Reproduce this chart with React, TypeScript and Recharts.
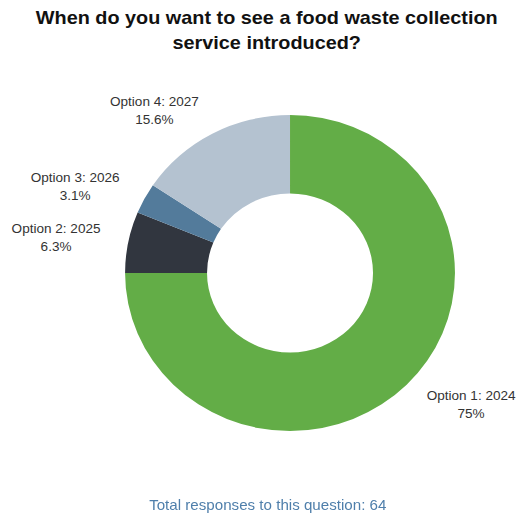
import React from "react";
import { PieChart, Pie, Cell } from "recharts";

const categories = ["Option 1: 2024", "Option 2: 2025", "Option 3: 2026", "Option 4: 2027"];
const responses = [48, 4, 2, 10];
const colors = ["#63ad47", "#31363f", "#537b9b", "#b4c2d0"];
const titleLines = ["When do you want to see a food waste collection", "service introduced?"];
const footerText = "Total responses to this question: 64";

const data = categories.map((name, i) => ({ name, value: responses[i] }));

const FONT = '"Liberation Sans", Arial, Helvetica, sans-serif';
const RADIAN = Math.PI / 180;

let ctx: CanvasRenderingContext2D | null = null;
function measure(text: string, size: number): number {
  if (!ctx) {
    const c = document.createElement("canvas");
    ctx = c.getContext("2d");
  }
  if (!ctx) return text.length * size * 0.5;
  ctx.font = `${size}px ${FONT}`;
  return ctx.measureText(text).width;
}

function fmtPct(p: number): string {
  return `${Math.round(p * 1000) / 10}%`;
}

const renderLabel = (props: any) => {
  const { cx, cy, midAngle, outerRadius, percent, name } = props;
  const r = outerRadius + 27;
  const x = cx + r * Math.cos(-midAngle * RADIAN);
  const y = cy + r * Math.sin(-midAngle * RADIAN);
  const pct = fmtPct(percent);
  const w = Math.max(measure(name, 13), measure(pct, 13));
  const mx = x >= cx ? x + w / 2 : x - w / 2;
  return (
    <text
      x={mx}
      y={y}
      textAnchor="middle"
      fill="#333333"
      fontSize={13}
      fontFamily={FONT}
    >
      <tspan x={mx} dy={-4}>{name}</tspan>
      <tspan x={mx} dy={18}>{pct}</tspan>
    </text>
  );
};

export default function App() {
  return (
    <div
      style={{
        position: "absolute",
        left: 0,
        top: 0,
        width: 496,
        height: 514,
        transform: "scaleX(1.044)",
        transformOrigin: "0 0",
        background: "#ffffff",
        fontFamily: FONT,
      }}
    >
      <div
        style={{
          position: "absolute",
          left: 0,
          top: 5,
          width: 511,
          textAlign: "center",
          fontSize: 19,
          fontWeight: "bold",
          lineHeight: "25px",
          color: "#111111",
        }}
      >
        {titleLines.map((t, i) => (
          <div key={i}>{t}</div>
        ))}
      </div>
      <div style={{ position: "absolute", left: 0, top: 0 }}>
        <PieChart width={496} height={514} margin={{ top: 0, right: 0, bottom: 0, left: 0 }}>
          <Pie
            data={data}
            dataKey="value"
            nameKey="name"
            cx={277.8}
            cy={273}
            outerRadius={158}
            innerRadius={79.5}
            startAngle={90}
            endAngle={-270}
            stroke="none"
            label={renderLabel}
            labelLine={false}
            isAnimationActive={false}
          >
            {data.map((d, i) => (
              <Cell key={d.name} fill={colors[i]} />
            ))}
          </Pie>
        </PieChart>
      </div>
      <div
        style={{
          position: "absolute",
          left: 0,
          top: 496,
          width: 513,
          textAlign: "center",
          fontSize: 14.5,
          lineHeight: "18px",
          color: "#4f7fab",
        }}
      >
        {footerText}
      </div>
    </div>
  );
}
